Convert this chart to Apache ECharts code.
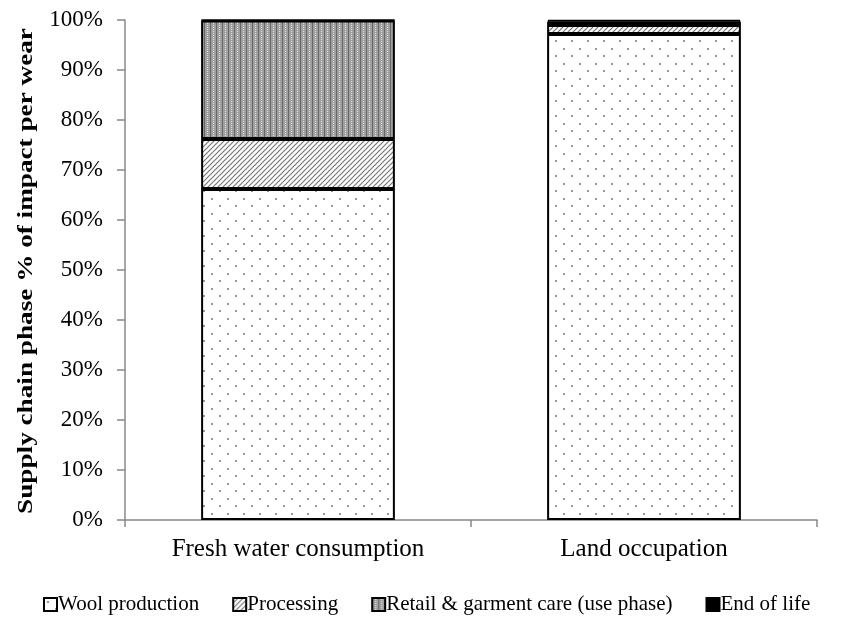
<!DOCTYPE html>
<html><head><meta charset="utf-8">
<script src="https://cdn.jsdelivr.net/npm/echarts@6/dist/echarts.min.js"></script>
<style>html,body{margin:0;padding:0;background:#fff}#c{width:860px;height:621px}</style>
</head><body><div id="c"></div>
<script>
const categories = ['Fresh water consumption', 'Land occupation'];
const seriesNames = ['Wool production', 'Processing', 'Retail & garment care (use phase)', 'End of life'];
const woolProduction = [66.2, 97.2];
const processing = [10.0, 1.8];
const retailCare = [23.7, 0.7];
const endOfLife = [0.1, 0.3];
const yTicks = [0, 10, 20, 30, 40, 50, 60, 70, 80, 90, 100];
const yTitle = 'Supply chain phase % of impact per wear';

function makePattern(w, h, draw) {
  const c = document.createElement('canvas');
  c.width = w; c.height = h;
  const g = c.getContext('2d');
  draw(g, w, h);
  return { image: c, repeat: 'repeat' };
}
const dots = makePattern(16, 15, (g) => {
  g.fillStyle = '#fff'; g.fillRect(0, 0, 16, 15);
  g.fillStyle = '#999';
  g.fillRect(3, 3, 2, 2);
  g.fillRect(11, 10, 2, 2);
});
const hatch = makePattern(5, 5, (g) => {
  g.fillStyle = '#fff'; g.fillRect(0, 0, 5, 5);
  g.strokeStyle = '#777'; g.lineWidth = 1.2;
  g.beginPath();
  g.moveTo(-1, 6); g.lineTo(6, -1);
  g.moveTo(-1, 1); g.lineTo(1, -1);
  g.moveTo(4, 6); g.lineTo(6, 4);
  g.stroke();
});
const dense = makePattern(6, 4, (g) => {
  g.fillStyle = '#a0a0a0'; g.fillRect(0, 0, 6, 4);
  g.fillStyle = '#666'; g.fillRect(0, 0, 1, 4);
  g.fillStyle = '#e0e0e0'; g.fillRect(3, 1, 1, 1); g.fillRect(3, 3, 1, 1);
});
const fills = [dots, hatch, dense, '#000'];
const values = [woolProduction, processing, retailCare, endOfLife];

const chart = echarts.init(document.getElementById('c'));
const font = '"Liberation Serif", "Times New Roman", serif';
chart.setOption({
  animation: false,
  textStyle: { fontFamily: font },
  grid: { left: 125, right: 43, top: 20, bottom: 101 },
  legend: {
    bottom: 1, left: 38,
    itemWidth: 13, itemHeight: 13, itemGap: 33, icon: 'rect',
    textStyle: { fontFamily: font, fontSize: 21, color: '#000', padding: [0, 0, 0, -4] },
    data: seriesNames
  },
  graphic: [{
    type: 'text', x: 27, y: 271, rotation: Math.PI / 2, scaleX: 1.36,
    style: { text: yTitle, font: 'bold 20px ' + font, fill: '#000',
      align: 'center', verticalAlign: 'middle' }
  }],
  xAxis: {
    type: 'category', data: categories,
    axisLine: { lineStyle: { color: '#888', width: 1.5 } },
    axisTick: { show: true, length: 7, lineStyle: { color: '#888', width: 1.5 } },
    axisLabel: { fontFamily: font, fontSize: 25, color: '#000', margin: 17 }
  },
  yAxis: {
    type: 'value', min: 0, max: 100, interval: 10,
    axisLine: { show: true, lineStyle: { color: '#888', width: 1.5 } },
    axisTick: { show: true, length: 8, lineStyle: { color: '#888', width: 1.5 } },
    splitLine: { show: false },
    axisLabel: { fontFamily: font, fontSize: 23, color: '#000', margin: 22,
      formatter: (v) => yTicks.includes(v) ? v + '%' : '' }
  },
  series: seriesNames.map((n, i) => ({
    name: n, type: 'bar', stack: 'all', data: values[i],
    barWidth: '56%',
    itemStyle: { color: fills[i], borderColor: '#000', borderWidth: 2 }
  }))
});
</script></body></html>
